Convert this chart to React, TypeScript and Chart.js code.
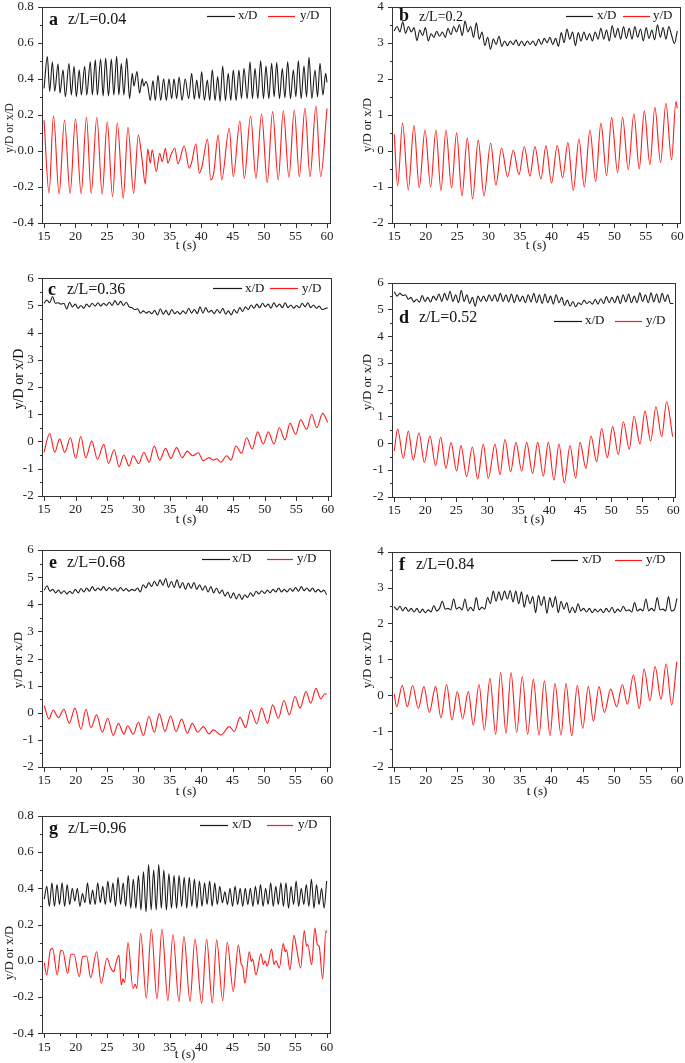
import React, { useEffect, useRef } from "react";
import { Chart, registerables } from "chart.js";
Chart.register(...registerables);

const FONT = '"Liberation Serif", "Times New Roman", serif';
const AXIS = "#333333";
const BLACK_LINE = "#1a1a1a";
const RED_LINE = "#ff1a1a";

const xTicks = [15, 20, 25, 30, 35, 40, 45, 50, 55, 60];
const yTicksSmall = [-0.4, -0.2, 0, 0.2, 0.4, 0.6, 0.8];
const yTicks4 = [-2, -1, 0, 1, 2, 3, 4];
const yTicks6 = [-2, -1, 0, 1, 2, 3, 4, 5, 6];

// ---------- panel a ----------
const aRedT = [15.0,15.8,16.5,17.4,18.25,19.15,20.0,20.9,21.75,22.5,23.4,24.25,25.05,25.9,26.65,27.6,28.35,29.25,30.0,30.6,31.1,31.5,31.9,32.2,32.85,33.4,33.8,34.3,34.7,35.2,35.8,36.3,37.3,38.1,38.5,39.15,39.7,40.1,41.0,41.5,42.0,42.7,43.25,44.45,45.1,46.15,46.85,47.85,48.7,49.6,50.5,51.35,52.25,53.05,53.95,54.8,55.6,56.5,57.3,58.25,59.0,60.0];
const aRedV = [0.17,-0.235,0.195,-0.24,0.17,-0.237,0.177,-0.237,0.187,-0.235,0.187,-0.24,0.162,-0.254,0.155,-0.263,0.131,-0.235,0.088,-0.05,-0.183,0.01,-0.068,0.006,-0.115,-0.013,-0.06,0.015,-0.068,-0.02,0.015,-0.072,0.027,-0.096,-0.06,0.04,-0.124,-0.09,0.065,-0.161,-0.12,0.088,-0.161,0.126,-0.143,0.166,-0.152,0.194,-0.152,0.205,-0.176,0.218,-0.161,0.223,-0.146,0.227,-0.143,0.236,-0.143,0.249,-0.143,0.235];
const aBlkT = [15.0,15.53,15.9,16.33,16.7,17.23,17.54,18.02,18.39,18.97,19.34,19.77,20.14,20.6,20.93,21.47,21.79,22.36,22.68,23.16,23.48,24.0,24.4,24.8,25.25,25.7,26.1,26.55,26.9,27.29,27.7,28.15,28.6,29.04,29.3,29.78,30.2,30.62,30.85,31.2,31.5,31.9,32.33,32.7,33.13,33.55,34.03,34.45,34.87,35.3,35.67,36.1,36.47,36.95,37.45,38.0,38.48,38.9,39.28,39.7,40.07,40.5,40.97,41.35,41.76,42.2,42.62,43.0,43.41,43.85,44.3,44.7,45.1,45.55,46.0,46.4,46.8,47.3,47.76,48.15,48.55,49.0,49.45,49.9,50.3,50.75,51.2,51.6,52.0,52.45,52.9,53.3,53.75,54.2,54.65,55.05,55.44,55.9,56.34,56.75,57.14,57.6,58.09,58.5,58.89,59.35,59.79,60.0];
const aBlkV = [0.347,0.523,0.33,0.495,0.33,0.483,0.32,0.45,0.3,0.485,0.31,0.47,0.3,0.45,0.31,0.47,0.31,0.495,0.31,0.505,0.31,0.51,0.305,0.515,0.305,0.51,0.31,0.525,0.31,0.485,0.31,0.515,0.29,0.43,0.36,0.44,0.32,0.4,0.36,0.385,0.36,0.28,0.39,0.28,0.42,0.28,0.4,0.28,0.4,0.29,0.4,0.29,0.41,0.28,0.4,0.29,0.43,0.285,0.393,0.29,0.44,0.28,0.393,0.28,0.45,0.28,0.412,0.275,0.471,0.28,0.43,0.28,0.449,0.28,0.449,0.29,0.458,0.29,0.495,0.29,0.458,0.29,0.5,0.29,0.471,0.29,0.486,0.3,0.49,0.29,0.458,0.295,0.495,0.29,0.45,0.3,0.5,0.29,0.471,0.3,0.519,0.29,0.449,0.3,0.486,0.31,0.43,0.38];

// ---------- panel b ----------
const bRedT = [15.0,15.53,16.32,17.23,18.13,18.97,19.88,20.78,21.62,22.42,23.21,24.11,24.91,25.76,26.61,27.45,28.35,29.26,30.32,31.16,32.06,33.02,33.92,34.82,35.67,36.57,37.36,38.32,39.11,40.01,40.91,41.76,42.61,43.46,44.36,45.21,46.11,47.01,47.86,48.76,49.55,50.51,51.3,52.2,53.1,53.95,54.75,55.65,56.44,57.34,58.19,59.09,59.78,60.0];
const bRedV = [0.46,-0.97,0.77,-1.08,0.7,-1.02,0.58,-1.0,0.58,-1.1,0.58,-1.03,0.5,-1.25,0.36,-1.33,0.3,-1.25,0.22,-0.95,0.08,-0.72,0.02,-0.66,0.12,-0.7,0.12,-0.78,0.14,-0.89,0.15,-0.75,0.23,-1.1,0.33,-1.0,0.58,-0.85,0.77,-0.69,0.93,-0.6,0.93,-0.52,1.03,-0.5,1.11,-0.38,1.21,-0.32,1.32,-0.25,1.37,1.18];
const bBlkV = [3.33,3.45,3.3,3.58,3.26,3.45,3.3,3.42,3.06,3.35,3.2,3.42,3.05,3.25,3.15,3.32,3.18,3.3,3.15,3.4,3.22,3.45,3.3,3.5,3.2,3.6,3.3,3.45,3.15,3.55,3.1,3.3,2.92,3.15,2.82,3.1,2.95,3.18,2.9,3.05,2.92,3.05,2.95,3.08,2.92,3.05,2.92,3.05,2.95,3.05,2.92,3.1,2.95,3.12,3.0,3.15,2.95,3.12,2.9,3.28,3.0,3.38,3.1,3.3,2.92,3.28,3.05,3.3,3.08,3.25,3.05,3.3,3.1,3.4,3.1,3.35,3.05,3.48,3.15,3.4,3.1,3.45,3.12,3.4,3.1,3.45,3.15,3.38,3.05,3.42,3.12,3.35,3.08,3.5,3.15,3.42,3.1,3.45,3.2,2.98,3.32];

// ---------- panel c ----------
const cRedT = [15.0,15.9,16.69,17.49,18.28,19.18,20.03,20.82,21.62,22.57,23.47,24.48,25.22,26.12,26.91,27.65,28.5,29.13,30.03,30.83,31.68,32.47,33.37,34.27,35.12,36.02,36.92,37.71,38.56,39.46,40.25,41.15,41.84,42.4,43.06,43.96,44.65,45.44,46.34,47.13,48.03,48.88,49.78,50.57,51.47,52.32,53.22,54.02,54.92,55.71,56.66,57.46,58.25,59.2,60.0];
const cRedV = [-0.4,0.29,-0.4,0.09,-0.4,0.13,-0.63,0.18,-0.6,0.01,-0.66,-0.11,-0.81,-0.31,-0.94,-0.5,-0.91,-0.53,-0.82,-0.4,-0.77,-0.17,-0.69,-0.26,-0.63,-0.23,-0.6,-0.36,-0.53,-0.42,-0.71,-0.6,-0.69,-0.64,-0.77,-0.53,-0.69,-0.17,-0.44,0.13,-0.28,0.35,-0.1,0.35,-0.1,0.5,0.05,0.66,0.26,0.79,0.44,1.0,0.5,1.03,0.7];
const cBlkV = [5.08,5.2,5.1,5.33,5.08,5.1,5.05,5.08,4.87,5.12,4.95,5.05,4.9,5.0,4.9,5.05,4.95,5.08,4.97,5.1,4.98,5.08,5.0,5.12,5.0,5.18,5.02,5.15,5.0,5.12,4.95,4.92,4.85,4.88,4.72,4.8,4.72,4.78,4.7,4.82,4.65,4.88,4.68,4.82,4.65,4.85,4.7,4.78,4.68,4.8,4.7,4.9,4.72,4.85,4.7,4.95,4.72,4.92,4.75,4.82,4.7,4.85,4.72,4.9,4.68,4.8,4.65,4.85,4.72,4.92,4.78,4.95,4.85,5.02,4.9,5.05,4.92,5.08,4.95,5.05,4.9,5.1,4.95,5.05,4.92,5.1,4.92,5.02,4.9,5.0,4.92,5.08,4.95,5.1,4.92,5.02,4.9,4.98,4.85,4.88,4.92];

// ---------- panel d ----------
const dRedT = [15.0,15.54,16.45,17.26,18.06,18.98,19.84,20.75,21.67,22.47,23.33,24.14,25.05,25.75,26.67,27.58,28.44,29.35,30.16,31.24,32.04,32.85,33.76,34.62,35.54,36.34,37.31,38.12,39.03,39.84,40.75,41.56,42.42,43.33,44.25,44.95,45.91,46.72,47.63,48.44,49.35,50.22,51.13,51.94,52.9,53.66,54.62,55.43,56.34,57.2,58.12,58.92,59.89];
const dRedV = [-0.29,0.53,-0.57,0.45,-0.63,0.39,-0.72,0.27,-0.84,0.22,-0.94,0.02,-1.04,-0.09,-1.25,-0.14,-1.34,-0.04,-1.31,-0.04,-1.17,0.14,-1.07,0.03,-1.04,0.03,-1.13,0.03,-1.23,0.03,-1.38,-0.03,-1.48,-0.1,-1.31,0.03,-0.94,0.27,-0.69,0.55,-0.54,0.62,-0.42,0.8,-0.22,1.01,-0.03,1.2,0.08,1.36,0.24,1.55,0.24];
const dBlkV = [5.66,5.5,5.6,5.52,5.55,5.38,5.45,5.28,5.38,5.27,5.52,5.3,5.45,5.28,5.5,5.35,5.58,5.3,5.6,5.35,5.68,5.3,5.55,5.25,5.72,5.3,5.55,5.22,5.45,5.12,5.5,5.3,5.5,5.3,5.55,5.32,5.55,5.3,5.6,5.3,5.55,5.28,5.58,5.25,5.55,5.3,5.5,5.25,5.55,5.28,5.6,5.25,5.55,5.22,5.58,5.25,5.5,5.2,5.55,5.25,5.45,5.15,5.35,5.12,5.3,5.1,5.25,5.18,5.35,5.22,5.3,5.2,5.38,5.2,5.4,5.22,5.48,5.25,5.45,5.25,5.5,5.22,5.55,5.28,5.58,5.25,5.5,5.25,5.62,5.3,5.55,5.25,5.62,5.28,5.58,5.25,5.6,5.3,5.55,5.22,5.22];

// ---------- panel e ----------
const eRedT = [15.0,15.74,16.43,17.23,18.13,18.99,19.89,20.84,21.64,22.44,23.34,24.25,25.1,26.0,26.8,27.7,28.28,29.19,29.98,30.78,31.68,32.53,33.33,34.23,35.14,35.99,36.89,37.8,38.59,39.44,40.35,41.25,41.94,43.16,44.49,45.29,46.19,47.09,47.89,48.85,49.64,50.55,51.4,52.3,53.2,54.05,54.96,55.75,56.71,57.45,58.3,59.05,59.74,60.0];
const eRedV = [0.26,-0.23,0.1,-0.18,0.13,-0.39,0.17,-0.61,0.13,-0.55,-0.08,-0.72,-0.2,-0.84,-0.39,-0.79,-0.48,-0.79,-0.35,-0.84,-0.14,-0.72,-0.04,-0.69,-0.12,-0.69,-0.23,-0.75,-0.39,-0.72,-0.51,-0.78,-0.63,-0.82,-0.51,-0.69,-0.17,-0.55,0.1,-0.41,0.17,-0.39,0.29,-0.2,0.45,-0.08,0.6,0.17,0.78,0.35,0.9,0.51,0.7,0.68];
const eBlkV = [4.52,4.68,4.48,4.55,4.42,4.52,4.4,4.5,4.38,4.48,4.4,4.55,4.42,4.58,4.45,4.6,4.48,4.65,4.5,4.6,4.52,4.65,4.5,4.62,4.52,4.6,4.48,4.62,4.5,4.58,4.48,4.55,4.5,4.6,4.45,4.72,4.6,4.8,4.65,4.85,4.68,4.9,4.7,4.95,4.62,4.85,4.62,4.9,4.6,4.8,4.55,4.78,4.58,4.8,4.55,4.72,4.52,4.68,4.45,4.65,4.42,4.6,4.4,4.52,4.3,4.45,4.22,4.42,4.2,4.38,4.18,4.35,4.25,4.42,4.3,4.48,4.38,4.5,4.4,4.52,4.42,4.55,4.45,4.6,4.45,4.55,4.45,4.58,4.48,4.62,4.48,4.65,4.5,4.6,4.48,4.6,4.45,4.55,4.45,4.52,4.35];

// ---------- panel f ----------
const fRedT = [15.0,15.37,16.27,17.07,17.92,18.82,19.72,20.57,21.58,22.43,23.33,24.18,25.03,25.88,26.78,27.58,28.48,29.33,30.23,31.14,31.93,32.78,33.58,34.48,35.38,36.23,37.13,38.04,38.89,39.79,40.58,41.54,42.34,43.24,44.14,44.99,45.89,46.69,47.59,48.44,49.45,50.4,51.31,52.1,53.06,54.01,54.76,55.71,56.51,57.46,58.26,59.16,59.96];
const fRedV = [0.03,-0.32,0.27,-0.32,0.27,-0.37,0.24,-0.48,0.24,-0.63,0.3,-0.69,0.1,-0.66,0.1,-0.83,0.3,-0.97,0.47,-1.09,0.63,-1.06,0.63,-1.04,0.52,-1.09,0.45,-1.11,0.4,-1.13,0.33,-1.11,0.33,-1.13,0.27,-0.92,0.24,-0.72,0.24,-0.48,0.17,-0.32,0.3,-0.25,0.56,-0.37,0.73,-0.16,0.8,-0.11,0.87,-0.27,0.93];
const fBlkV = [2.47,2.38,2.48,2.35,2.45,2.34,2.42,2.32,2.42,2.3,2.4,2.3,2.38,2.32,2.5,2.35,2.42,2.62,2.4,2.42,2.38,2.68,2.4,2.45,2.38,2.68,2.35,2.45,2.35,2.72,2.38,2.45,2.4,2.72,2.55,2.9,2.62,2.88,2.65,2.9,2.68,2.92,2.6,2.9,2.55,2.88,2.45,2.8,2.55,2.75,2.3,2.78,2.5,2.75,2.28,2.72,2.45,2.75,2.3,2.62,2.4,2.58,2.3,2.45,2.3,2.55,2.35,2.42,2.32,2.42,2.3,2.4,2.32,2.4,2.3,2.42,2.32,2.45,2.3,2.4,2.33,2.48,2.35,2.38,2.32,2.58,2.35,2.4,2.35,2.68,2.35,2.42,2.35,2.72,2.38,2.4,2.35,2.75,2.35,2.38,2.7];

// ---------- panel g ----------
const gRedT = [15.0,15.37,16.01,16.33,17.07,17.6,17.92,18.72,19.25,19.73,20.58,21.11,21.75,22.39,23.34,24.08,25.0,25.58,26.1,26.37,26.9,27.27,27.54,27.8,28.34,29.13,29.5,29.75,30.36,31.26,32.05,32.96,33.75,34.71,35.5,36.46,37.26,38.22,39.01,40.08,40.87,41.77,42.47,43.43,44.16,45.12,45.92,46.4,46.6,46.98,47.67,48.0,48.2,48.73,49.53,49.9,50.2,50.5,51.23,51.6,51.9,52.45,53.08,53.4,53.6,54.15,54.79,55.2,55.85,56.43,56.8,57.0,57.6,58.13,58.5,58.8,59.36,59.88,60.0];
const gRedV = [-0.01,-0.078,0.063,0.067,-0.078,0.054,0.057,-0.07,0.036,0.036,-0.088,0.022,0.026,-0.093,0.05,-0.124,0.014,-0.04,-0.06,-0.02,0.03,-0.133,-0.1,-0.12,0.1,-0.152,-0.13,-0.152,0.152,-0.207,0.175,-0.21,0.175,-0.22,0.145,-0.225,0.133,-0.225,0.12,-0.234,0.12,-0.234,0.115,-0.22,0.102,-0.17,0.087,-0.02,-0.03,-0.124,0.05,-0.004,0.01,-0.078,0.039,-0.02,0.0,-0.03,0.065,-0.02,0.0,-0.04,0.095,0.05,0.06,-0.05,0.14,0.07,-0.04,0.165,0.08,0.09,-0.022,0.18,0.09,0.08,-0.1,0.165,0.155];
const gBlkV = [0.34,0.41,0.3,0.43,0.3,0.42,0.31,0.43,0.3,0.42,0.31,0.4,0.33,0.4,0.3,0.37,0.32,0.43,0.31,0.39,0.31,0.43,0.32,0.41,0.31,0.44,0.32,0.43,0.3,0.46,0.31,0.43,0.3,0.47,0.29,0.45,0.29,0.47,0.28,0.49,0.27,0.53,0.28,0.5,0.28,0.53,0.29,0.5,0.28,0.48,0.29,0.47,0.29,0.47,0.3,0.46,0.29,0.46,0.3,0.45,0.29,0.44,0.3,0.43,0.31,0.44,0.3,0.43,0.31,0.41,0.32,0.38,0.31,0.4,0.3,0.41,0.31,0.4,0.3,0.4,0.31,0.4,0.3,0.41,0.31,0.42,0.3,0.4,0.31,0.43,0.3,0.41,0.31,0.43,0.3,0.43,0.29,0.41,0.31,0.44,0.3,0.4,0.31,0.42,0.3,0.45,0.29,0.42,0.31,0.4,0.29,0.44];

type Pt = { x: number; y: number };
function zip(t: number[], v: number[]): Pt[] {
  const n = Math.min(t.length, v.length);
  const out: Pt[] = [];
  for (let i = 0; i < n; i++) out.push({ x: t[i], y: v[i] });
  return out;
}
// evenly sampled record between 15 s and 60 s
function sampled(v: number[]): Pt[] {
  const n = v.length;
  return v.map((y, i) => ({ x: 15 + (i * 45) / (n - 1), y }));
}

type Panel = {
  id: string; letter: string; zl: string; zlSize: number;
  L: number; T: number; R: number; B: number;
  xMin: number; xMax: number; yMin: number; yMax: number;
  yTicks: number[]; yDec: number;
  black: Pt[]; red: Pt[];
  letterPos: number[]; zlPos: number[];
  leg: number[]; // y, bx1, bx2, btx, rx1, rx2, rtx
  yTitle: number[]; // x, y, size
  xTitle: number[];
};

const PANELS: Panel[] = [
  { id: "a", letter: "a", zl: "z/L=0.04", zlSize: 16, L: 41.7, T: 6.7, R: 330, B: 223, xMin: 14.63, xMax: 60.48, yMin: -0.4, yMax: 0.8, yTicks: yTicksSmall, yDec: 1,
    black: zip(aBlkT, aBlkV), red: zip(aRedT, aRedV), letterPos: [49, 20], zlPos: [68, 20], leg: [15.7, 207, 235, 238, 268, 295, 300], yTitle: [10, 128, 11.5], xTitle: [186, 246] },
  { id: "b", letter: "b", zl: "z/L=0.2", zlSize: 14, L: 391.7, T: 6.7, R: 680, B: 223, xMin: 14.59, xMax: 60.43, yMin: -2, yMax: 4, yTicks: yTicks4, yDec: 0,
    black: sampled(bBlkV), red: zip(bRedT, bRedV), letterPos: [399, 16], zlPos: [419, 17], leg: [15.7, 566, 593, 597, 623, 650, 653], yTitle: [368, 125, 12.5], xTitle: [536, 246] },
  { id: "c", letter: "c", zl: "z/L=0.36", zlSize: 16, L: 41.7, T: 278.3, R: 331, B: 495.7, xMin: 14.63, xMax: 60.52, yMin: -2, yMax: 6, yTicks: yTicks6, yDec: 0,
    black: sampled(cBlkV), red: zip(cRedT, cRedV), letterPos: [48, 290], zlPos: [67, 290], leg: [288.3, 213, 242, 245, 270, 298, 302], yTitle: [19, 379, 14], xTitle: [186, 520] },
  { id: "d", letter: "d", zl: "z/L=0.52", zlSize: 16, L: 391.7, T: 282.7, R: 675, B: 496.7, xMin: 14.58, xMax: 60.27, yMin: -2, yMax: 6, yTicks: yTicks6, yDec: 0,
    black: sampled(dBlkV), red: zip(dRedT, dRedV), letterPos: [399, 318], zlPos: [419, 318], leg: [321, 554, 582, 585, 615, 642, 646], yTitle: [368, 382, 13], xTitle: [534, 520] },
  { id: "e", letter: "e", zl: "z/L=0.68", zlSize: 16, L: 41.7, T: 550, R: 330, B: 767, xMin: 14.59, xMax: 60.53, yMin: -2, yMax: 6, yTicks: yTicks6, yDec: 0,
    black: sampled(eBlkV), red: zip(eRedT, eRedV), letterPos: [49, 563], zlPos: [67, 563], leg: [559, 202, 230, 232, 267, 293, 297], yTitle: [19, 660, 13], xTitle: [186, 792] },
  { id: "f", letter: "f", zl: "z/L=0.84", zlSize: 16, L: 391.7, T: 551.7, R: 680, B: 767, xMin: 14.59, xMax: 60.48, yMin: -2, yMax: 4, yTicks: yTicks4, yDec: 0,
    black: sampled(fBlkV), red: zip(fRedT, fRedV), letterPos: [399, 565], zlPos: [416, 565], leg: [560, 551, 578, 582, 615, 642, 646], yTitle: [368, 660, 13], xTitle: [537, 792] },
  { id: "g", letter: "g", zl: "z/L=0.96", zlSize: 16, L: 41.7, T: 815.7, R: 330, B: 1033.3, xMin: 14.59, xMax: 60.53, yMin: -0.4, yMax: 0.8, yTicks: yTicksSmall, yDec: 1,
    black: sampled(gBlkV), red: zip(gRedT, gRedV), letterPos: [49, 829], zlPos: [68, 829], leg: [825, 200, 228, 232, 267, 293, 298], yTitle: [10, 953, 12.5], xTitle: [185, 1055] },
];

const decorPlugin = {
  id: "decor",
  afterDraw(chart: any, _a: any, o: any) {
    const ctx: CanvasRenderingContext2D = chart.ctx;
    const ca = chart.chartArea;
    const xs = chart.scales.x;
    const ys = chart.scales.y;
    const ox = o.ox, oy = o.oy;
    ctx.save();
    // frame
    const l = Math.round(ca.left) + 0.5, t = Math.round(ca.top) + 0.5;
    const r = Math.round(ca.right) + 0.5, b = Math.round(ca.bottom) + 0.5;
    ctx.strokeStyle = AXIS;
    ctx.lineWidth = 1;
    ctx.strokeRect(l, t, r - l, b - t);
    // ticks (major + minor)
    ctx.beginPath();
    const xt: number[] = o.xTicks;
    for (let i = 0; i < xt.length; i++) {
      const px = Math.round(xs.getPixelForValue(xt[i])) + 0.5;
      ctx.moveTo(px, b); ctx.lineTo(px, b + 4.5);
      if (i < xt.length - 1) {
        const pm = Math.round(xs.getPixelForValue((xt[i] + xt[i + 1]) / 2)) + 0.5;
        ctx.moveTo(pm, b); ctx.lineTo(pm, b + 2.5);
      }
    }
    const yt: number[] = o.yTicks;
    for (let i = 0; i < yt.length; i++) {
      const py = Math.round(ys.getPixelForValue(yt[i])) + 0.5;
      ctx.moveTo(l, py); ctx.lineTo(l - 4.5, py);
      if (i < yt.length - 1) {
        const pm = Math.round(ys.getPixelForValue((yt[i] + yt[i + 1]) / 2)) + 0.5;
        ctx.moveTo(l, pm); ctx.lineTo(l - 2.5, pm);
      }
    }
    ctx.stroke();
    // panel label
    ctx.fillStyle = "#111";
    ctx.textBaseline = "middle";
    ctx.textAlign = "left";
    ctx.font = `bold 18px ${FONT}`;
    ctx.fillText(o.letter, o.letterPos[0] - ox, o.letterPos[1] - oy);
    ctx.font = `${o.zlSize}px ${FONT}`;
    ctx.fillText(o.zl, o.zlPos[0] - ox, o.zlPos[1] - oy);
    // legend
    const lg = o.leg;
    const ly = Math.round(lg[0] - oy) + 0.5;
    ctx.lineWidth = 1.2;
    ctx.strokeStyle = BLACK_LINE;
    ctx.beginPath(); ctx.moveTo(lg[1] - ox, ly); ctx.lineTo(lg[2] - ox, ly); ctx.stroke();
    ctx.strokeStyle = RED_LINE;
    ctx.beginPath(); ctx.moveTo(lg[4] - ox, ly); ctx.lineTo(lg[5] - ox, ly); ctx.stroke();
    ctx.font = `13px ${FONT}`;
    ctx.fillText("x/D", lg[3] - ox, lg[0] - oy);
    ctx.fillText("y/D", lg[6] - ox, lg[0] - oy);
    // axis titles
    ctx.textAlign = "center";
    ctx.font = `13px ${FONT}`;
    ctx.fillText("t (s)", o.xTitle[0] - ox, o.xTitle[1] - oy);
    ctx.save();
    ctx.translate(o.yTitle[0] - ox, o.yTitle[1] - oy);
    ctx.rotate(-Math.PI / 2);
    ctx.font = `${o.yTitle[2]}px ${FONT}`;
    ctx.fillText("y/D or x/D", 0, 0);
    ctx.restore();
    ctx.restore();
  },
};

const WY = 40, HX = 20, ML = 45, MT = 20, MR = 15, MB = 40;

function PanelChart({ p }: { p: Panel }) {
  const ref = useRef<HTMLCanvasElement | null>(null);
  const ox = Math.floor(p.L) - ML;
  const oy = Math.floor(p.T) - MT;
  const cw = Math.ceil(p.R + MR) - ox;
  const ch = Math.ceil(p.B + MB) - oy;
  useEffect(() => {
    if (!ref.current) return;
    const chart = new Chart(ref.current, {
      type: "line",
      data: {
        datasets: [
          { data: p.black, borderColor: BLACK_LINE, borderWidth: 1.1, pointRadius: 0, cubicInterpolationMode: "monotone", fill: false } as any,
          { data: p.red, borderColor: RED_LINE, borderWidth: 1.1, pointRadius: 0, cubicInterpolationMode: "monotone", fill: false } as any,
        ],
      },
      options: {
        responsive: false,
        animation: false,
        devicePixelRatio: 1,
        events: [],
        layout: { padding: { left: p.L - ox - WY, top: p.T - oy, right: ox + cw - p.R, bottom: oy + ch - p.B - HX } },
        plugins: {
          legend: { display: false },
          tooltip: { enabled: false },
          decor: {
            ox, oy, letter: p.letter, zl: p.zl, zlSize: p.zlSize, letterPos: p.letterPos, zlPos: p.zlPos,
            leg: p.leg, yTitle: p.yTitle, xTitle: p.xTitle, xTicks: xTicks, yTicks: p.yTicks,
          },
        } as any,
        scales: {
          x: {
            type: "linear", min: p.xMin, max: p.xMax,
            grid: { display: false, drawTicks: false, tickLength: 0 }, border: { display: false },
            afterFit: (s: any) => { s.height = HX; },
            afterBuildTicks: (s: any) => { s.ticks = xTicks.map((v) => ({ value: v })); },
            ticks: { font: { family: FONT, size: 13 }, color: "#222", padding: 6, maxRotation: 0, autoSkip: false, callback: (v: any) => String(v) },
          },
          y: {
            type: "linear", min: p.yMin, max: p.yMax,
            grid: { display: false, drawTicks: false, tickLength: 0 }, border: { display: false },
            afterFit: (s: any) => { s.width = WY; },
            afterBuildTicks: (s: any) => { s.ticks = p.yTicks.map((v) => ({ value: v })); },
            ticks: { font: { family: FONT, size: 13 }, color: "#222", padding: 8, autoSkip: false, callback: (v: any) => Number(v).toFixed(p.yDec) },
          },
        } as any,
      },
      plugins: [decorPlugin as any],
    });
    return () => chart.destroy();
  }, []);
  return (
    <canvas ref={ref} width={cw} height={ch} style={{ position: "absolute", left: ox, top: oy, width: cw, height: ch }} />
  );
}

export default function App() {
  return (
    <div style={{ position: "absolute", left: 0, top: 0, width: 685, height: 1063, overflow: "hidden", background: "#fff" }}>
      {PANELS.map((p) => (
        <PanelChart key={p.id} p={p} />
      ))}
    </div>
  );
}
